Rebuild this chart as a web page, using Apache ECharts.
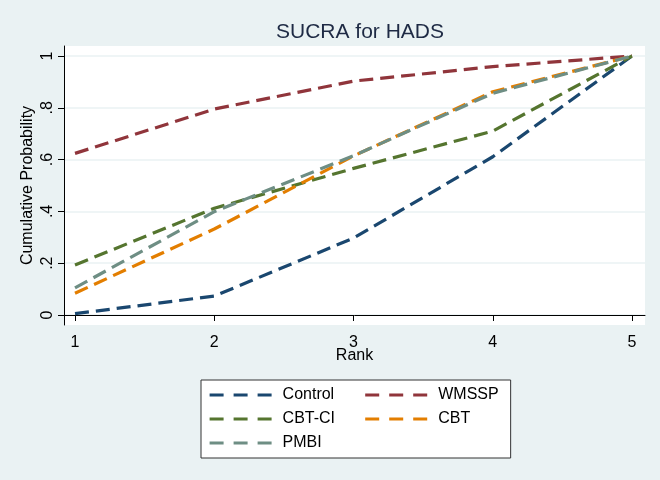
<!DOCTYPE html>
<html>
<head>
<meta charset="utf-8">
<script src="https://cdn.jsdelivr.net/npm/echarts@6/dist/echarts.min.js"></script>
<style>
  html, body { margin: 0; padding: 0; background: #eaf2f3; }
  #chart { width: 660px; height: 480px; }
</style>
</head>
<body>
<div id="chart"></div>
<script>
var ranks = [1, 2, 3, 4, 5];
var yTicks = [0, 0.2, 0.4, 0.6, 0.8, 1];
var seriesNames = ['Control', 'WMSSP', 'CBT-CI', 'CBT', 'PMBI'];
var control = [0.005, 0.073, 0.297, 0.611, 1];
var wmssp = [0.624, 0.795, 0.903, 0.959, 1];
var cbtci = [0.193, 0.412, 0.566, 0.710, 1];
var cbt = [0.084, 0.332, 0.614, 0.862, 1];
var pmbi = [0.105, 0.399, 0.615, 0.856, 1];
var colors = ['#1a476f', '#90353b', '#55752f', '#e37e00', '#6e8e84'];

var values = [control, wmssp, cbtci, cbt, pmbi];
var font = 'Liberation Sans, Arial, sans-serif';

function tickLabel(v) {
  if (v === 0) return '0';
  if (v === 1) return '1';
  return String(+v.toFixed(1)).replace(/^0/, '');
}

var chart = echarts.init(document.getElementById('chart'));

var series = seriesNames.map(function (name, i) {
  return {
    name: name,
    type: 'line',
    symbol: 'none',
    data: ranks.map(function (r, j) { return [r, values[i][j]]; }),
    lineStyle: { color: colors[i], width: 3.2, type: [14, 7] },
    itemStyle: { color: colors[i] },
    z: 2 + i
  };
});

chart.setOption({
  backgroundColor: '#eaf2f3',
  animation: false,
  textStyle: { fontFamily: font },
  title: {
    text: 'SUCRA for HADS',
    left: 355,
    top: 17,
    textAlign: 'center',
    textStyle: { fontSize: 21, fontWeight: 'normal', color: '#1e2a44', fontFamily: font }
  },
  grid: {
    left: 64, right: 15, top: 46, bottom: 155,
    show: true, backgroundColor: '#ffffff', borderWidth: 0
  },
  xAxis: {
    type: 'value',
    min: 0.921,
    max: 5.093,
    name: 'Rank',
    nameLocation: 'middle',
    nameGap: 23,
    nameMoveOverlap: false,
    nameTextStyle: { fontSize: 16, color: '#000', fontFamily: font },
    axisLine: { show: true, lineStyle: { color: '#000', width: 1 } },
    axisTick: { show: true, length: 6, customValues: ranks, lineStyle: { color: '#000' } },
    axisLabel: { customValues: ranks, fontSize: 16, color: '#000', margin: 10 },
    splitLine: { show: false }
  },
  yAxis: {
    type: 'value',
    min: -0.0386,
    max: 1.0386,
    name: 'Cumulative Probability',
    nameLocation: 'middle',
    nameGap: 28,
    nameMoveOverlap: false,
    nameTextStyle: { fontSize: 16, color: '#000', fontFamily: font },
    axisLine: { show: true, lineStyle: { color: '#000', width: 1 } },
    axisTick: { show: true, length: 6, customValues: yTicks, lineStyle: { color: '#000' } },
    axisLabel: {
      customValues: yTicks, rotate: 90, fontSize: 16, color: '#000', margin: 8,
      formatter: tickLabel
    },
    splitLine: { show: true, lineStyle: { color: '#eaf2f3', width: 1.5 } }
  },
  legend: {
    left: 201,
    top: 380,
    width: 300,
    orient: 'horizontal',
    padding: [7, 12, 7, 7],
    itemGap: 8,
    itemWidth: 62,
    itemHeight: 2,
    backgroundColor: '#ffffff',
    borderColor: '#333',
    borderWidth: 1,
    itemStyle: { color: 'transparent', borderWidth: 0, opacity: 0 },
    lineStyle: { type: [14, 10], width: 3.2 },
    textStyle: { fontSize: 16, color: '#000', lineHeight: 16, padding: [0, 0, 0, 6], fontFamily: font },
    data: [
      { name: 'Control', textStyle: { width: 73 } },
      { name: 'WMSSP' },
      { name: 'CBT-CI', textStyle: { width: 73 } },
      { name: 'CBT' },
      { name: 'PMBI', textStyle: { width: 73 } }
    ]
  },
  series: series
});
</script>
</body>
</html>
